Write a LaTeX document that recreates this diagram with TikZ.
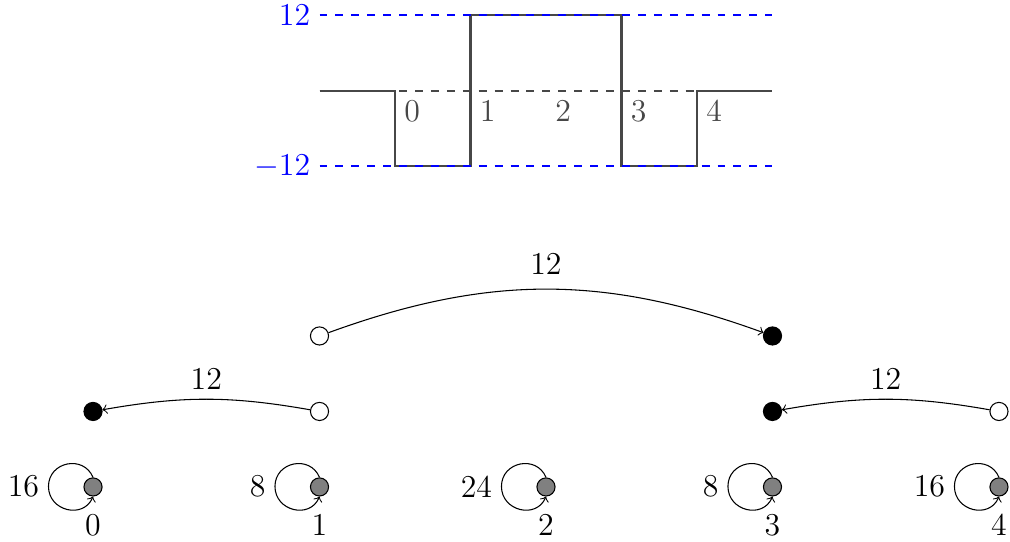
\documentclass[tikz,border=0pt]{standalone}
\usetikzlibrary{arrows}
\begin{document}
\begin{tikzpicture}[font=\large,
  dot/.style={circle, draw, minimum size=0.24cm, inner sep=0pt},
  wnode/.style={dot, fill=white},
  bnode/.style={dot, fill=black},
  gnode/.style={dot, fill=black!50},
  wave/.style={thick, draw=black!72},
  bluedash/.style={thick, dashed, draw=blue},
  middash/.style={thick, dashed, draw=black!72},
  lbl/.style={text=black!72},
  conn/.style={->, thin}]
\useasboundingbox (-1.232,-0.728) rectangle (12.146,6.45);
% waveform
\coordinate (s0) at (3,5.25);
\coordinate (s1) at (4,5.25);
\coordinate (s2) at (4,4.25);
\coordinate (s3) at (5,4.25);
\coordinate (s4) at (5,6.25);
\coordinate (s5) at (7,6.25);
\coordinate (s6) at (7,4.25);
\coordinate (s7) at (8,4.25);
\coordinate (s8) at (8,5.25);
\coordinate (s9) at (9,5.25);
\draw[middash] (s0) -- (s9);
\draw[wave] (s0) -- (s1) -- (s2) -- (s3) -- (s4) -- (s5) -- (s6) -- (s7) -- (s8) -- (s9);
\coordinate (tl) at (3,6.25);
\coordinate (tr) at (9,6.25);
\coordinate (bl) at (3,4.25);
\coordinate (br) at (9,4.25);
\draw[bluedash] (tl) -- (tr);
\draw[bluedash] (bl) -- (br);
\node[left, text=blue] (ltop) at (tl) {$12$};
\node[left, text=blue] (lbot) at (bl) {$-12$};
\node[below right, lbl] (t0) at (4,5.25) {0};
\node[below right, lbl] (t1) at (5,5.25) {1};
\node[below right, lbl] (t2) at (6,5.25) {2};
\node[below right, lbl] (t3) at (7,5.25) {3};
\node[below right, lbl] (t4) at (8,5.25) {4};
% graph
\node[gnode, label={[label distance=3pt]below:0}] (g0) at (0,0) {};
\node[gnode, label={[label distance=3pt]below:1}] (g1) at (3,0) {};
\node[gnode, label={[label distance=3pt]below:2}] (g2) at (6,0) {};
\node[gnode, label={[label distance=3pt]below:3}] (g3) at (9,0) {};
\node[gnode, label={[label distance=3pt]below:4}] (g4) at (12,0) {};
\node[bnode] (b0) at (0,1) {};
\node[wnode] (w1) at (3,1) {};
\node[bnode] (b3) at (9,1) {};
\node[wnode] (w4) at (12,1) {};
\node[wnode] (w1t) at (3,2) {};
\node[bnode] (b3t) at (9,2) {};
\draw[conn] (w1) to[bend right=10] node[above] (e1) {12} (b0);
\draw[conn] (w4) to[bend right=10] node[above] (e2) {12} (b3);
\draw[conn] (w1t) to[bend left=20] node[above, yshift=2pt] (e3) {12} (b3t);
\foreach \n/\v in {g0/16, g1/8, g2/24, g3/8, g4/16}{
  \draw[conn] (\n.north) .. controls +(-0.126,0.303) and +(0,0.328) .. ++(-0.59,-0.12) node[left] {\v}
     .. controls +(0,-0.328) and +(-0.126,-0.303) .. (\n.south);
}
\end{tikzpicture}
\end{document}
